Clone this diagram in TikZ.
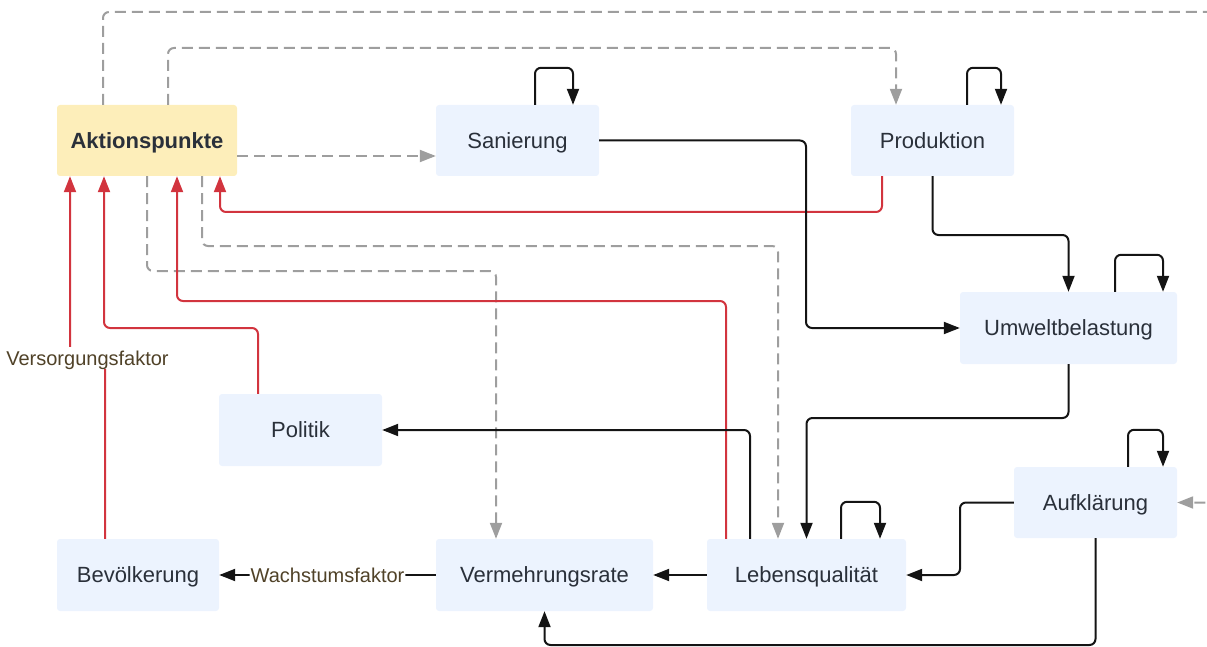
\documentclass[tikz,border=0pt]{standalone}
\usepackage{fontspec}
\setmainfont{Liberation Sans}
\usetikzlibrary{arrows.meta}
\definecolor{boxblue}{RGB}{236,243,254}
\definecolor{boxyellow}{RGB}{253,238,186}
\definecolor{txt}{RGB}{42,48,58}
\definecolor{labtxt}{RGB}{80,66,40}
\definecolor{redline}{RGB}{210,52,62}
\definecolor{grayline}{RGB}{158,158,158}
\definecolor{blackline}{RGB}{20,20,20}
\begin{document}
\begin{tikzpicture}[x=1pt,y=-1pt,
  box/.style={fill=boxblue, rounded corners=3pt, text=txt, font=\fontsize{22}{26}\selectfont, inner sep=0pt, text height=15.8pt, text depth=0pt},
  ybox/.style={box, fill=boxyellow, font=\fontsize{22}{26}\selectfont\bfseries},
  lab/.style={fill=white, text=labtxt, font=\fontsize{20}{24}\selectfont, inner xsep=1pt, inner ysep=4pt, text height=14.3pt, text depth=0pt},
  conn/.style={line width=2pt, rounded corners=6pt, -{Triangle[length=16pt,width=12pt]}},
  blk/.style={conn, draw=blackline},
  redc/.style={conn, draw=redline},
  dsh/.style={conn, draw=grayline, dash pattern=on 11pt off 6pt},
]
\useasboundingbox (0,0) rectangle (1207,647);

% nodes
\node[ybox, minimum width=180pt, minimum height=71pt] (akt) at (147,140.5) {Aktionspunkte};
\node[box, minimum width=163pt, minimum height=71pt] (san) at (517.5,140.5) {Sanierung};
\node[box, minimum width=163pt, minimum height=71pt] (prod) at (932.5,140.5) {Produktion};
\node[box, minimum width=217pt, minimum height=72pt] (umw) at (1068.5,328) {Umweltbelastung};
\node[box, minimum width=163pt, minimum height=72pt] (pol) at (300.5,430) {Politik};
\node[box, minimum width=163pt, minimum height=71pt] (auf) at (1095.5,502.5) {Aufklärung};
\node[box, minimum width=162pt, minimum height=72pt] (bev) at (138,575) {Bevölkerung};
\node[box, minimum width=217pt, minimum height=72pt] (ver) at (544.5,575) {Vermehrungsrate};
\node[box, minimum width=199pt, minimum height=72pt] (leb) at (806.5,575) {Lebensqualität};

% gray dashed connectors
\begin{scope}
\clip (0,0) rectangle (1207,647);
\draw[dsh] ([xshift=-44pt]akt.north) |- (1225,12) |- (auf.east);
\end{scope}
\draw[dsh] ([xshift=21pt]akt.north) |- (896,48) -- ([xshift=-36.5pt]prod.north);
\draw[dsh] ([yshift=-15.5pt]akt.east) -- ([yshift=-15.5pt]san.west);
\draw[dsh] (akt.south) |- (496,271) -- ([xshift=-48.5pt]ver.north);
\draw[dsh] ([xshift=55pt]akt.south) |- (778,246) -- ([xshift=-28.5pt]leb.north);

% red connectors
\draw[redc] ([xshift=-50.5pt]prod.south) |- (220,212) -- ([xshift=73pt]akt.south);
\draw[redc] ([xshift=-80.5pt]leb.north) |- (177,301) -- ([xshift=30pt]akt.south);
\draw[redc] ([xshift=-42.5pt]pol.north) |- (104,328) -- ([xshift=-43pt]akt.south);
\draw[redc] ([xshift=-33pt]bev.north) -- (105,358) -- (70,358) -- ([xshift=-77pt]akt.south);
\node[lab] (vf) at (87.5,358) {Versorgungsfaktor};

% black connectors
\draw[blk] (san.east) -| (806,328) -- (umw.west);
\draw[blk] (prod.south) -- (932.5,235) -| (umw.north);
\draw[blk] (umw.south) -- (1068.5,418) -| (leb.north);
\draw[blk] ([xshift=-56.5pt]leb.north) |- (pol.east);
\draw[blk] (leb.west) -- (ver.east);
\draw[blk] (ver.west) -- node[lab] (wf) {Wachstumsfaktor} (bev.east);
\draw[blk] (auf.west) -- (960,502.5) |- (leb.east);
\draw[blk] (auf.south) -- (1095.5,645) -| (ver.south);

% self loops
\draw[blk] ([xshift=17.5pt]san.north) -- ++(0,-37) -| ([xshift=55.5pt]san.north);
\draw[blk] ([xshift=34.5pt]prod.north) -- ++(0,-37) -| ([xshift=68.5pt]prod.north);
\draw[blk] ([xshift=46.5pt]umw.north) -- ++(0,-37) -| ([xshift=94.5pt]umw.north);
\draw[blk] ([xshift=32.5pt]auf.north) -- ++(0,-37) -| ([xshift=67.5pt]auf.north);
\draw[blk] ([xshift=34.5pt]leb.north) -- ++(0,-37) -| ([xshift=73.5pt]leb.north);
\end{tikzpicture}
\end{document}
